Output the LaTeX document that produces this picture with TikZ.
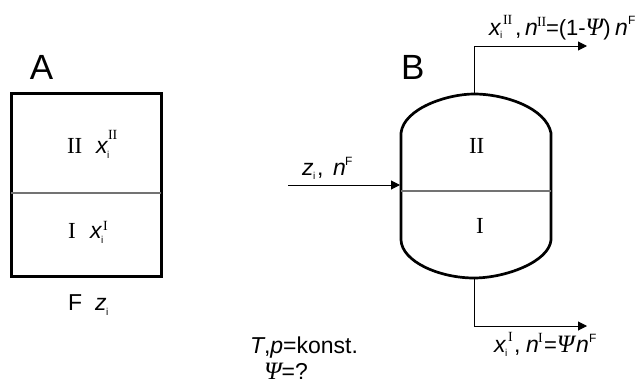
\documentclass[tikz,border=0pt]{standalone}
\usepackage{fontspec}
\setmainfont{Liberation Sans}
\newfontfamily\serifnum{Liberation Serif}
\usetikzlibrary{arrows.meta}
\newcommand{\fs}[1]{\fontsize{#1}{#1}\selectfont}
\newcommand{\PsiI}{{\serifnum\itshape\fs{25}Ψ}}
\tikzset{
  lbl/.style={anchor=base west,inner sep=0pt,outer sep=0pt,font=\fs{23}},
  big/.style={lbl,font=\fs{35}},
  small/.style={lbl,font=\fs{10}},
  sup/.style={lbl,font=\fs{12}},
  rom/.style={lbl,font=\serifnum\fs{23}},
  romsup/.style={lbl,font=\serifnum\fs{14}},
  wall/.style={line width=2.7pt,black},
  part/.style={line width=1.3pt,black!55},
  flow/.style={line width=1pt,black,-{Triangle[length=9pt,width=9pt]}},
}
\begin{document}
\begin{tikzpicture}[x=1pt,y=-1pt]
\useasboundingbox (0,0) rectangle (635,383);
% A
\node[big] (lA) at (30,79) {A};
\node[draw,wall,minimum width=149.6pt,minimum height=183.6pt,anchor=north west,inner sep=0pt,outer sep=0pt] (boxA) at (11.6,93.2) {};
\coordinate (aL) at (11,193); \coordinate (aR) at (161,193);
\draw[part] (aL) -- (aR);
\node[rom] (aII) at (67,153) {II};
\node[lbl] (ax2) at (96,153) {\textit{x}};
\node[small] (ai2) at (107,158) {i};
\node[romsup] (as2) at (108,139) {II};
\node[rom] (aI) at (68,238) {I};
\node[lbl] (ax1) at (90,238) {\textit{x}};
\node[small] (ai1) at (101,243) {i};
\node[romsup] (as1) at (103,230) {I};
\node[lbl] (aF) at (68,310) {F};
\node[lbl] (az) at (95,310) {\textit{z}};
\node[small] (azi) at (106,315) {i};
% B
\node[big] (lB) at (401,79) {B};
\coordinate (v1) at (401,133); \coordinate (vt) at (474,94); \coordinate (v2) at (551,133);
\coordinate (v3) at (551,240); \coordinate (vb) at (474,278); \coordinate (v4) at (401,240);
\draw[wall] (v1) .. controls (404,108) and (448,94) .. (vt)
  .. controls (505,94) and (546,108) .. (v2) -- (v3)
  .. controls (549,262) and (505,278) .. (vb)
  .. controls (440,278) and (402,262) .. (v4) -- cycle;
\coordinate (vL) at (401,191); \coordinate (vR) at (551,191);
\draw[part] (vL) -- (vR);
\node[rom] (bII) at (469,153) {II};
\node[rom] (bI) at (476,233) {I};
% feed
\coordinate (f0) at (288,185); \coordinate (f1) at (400,185);
\draw[flow] (f0) -- (f1);
\node[lbl] (fz) at (302,175) {\textit{z}};
\node[small] (fi) at (313,179) {i};
\node[lbl] (fc) at (317,175) {,};
\node[lbl] (fn) at (333,175) {\textit{n}};
\node[sup] (fF) at (345,165) {F};
% top outlet
\coordinate (t1) at (474,46); \coordinate (t2) at (587,46);
\draw[flow] (vt) -- (t1) -- (t2);
\node[lbl] (tx) at (489,35) {\textit{x}};
\node[small] (ti) at (500,38) {i};
\node[romsup] (ts) at (503,24) {II};
\node[lbl] (tc) at (515,35) {,};
\node[lbl] (tn) at (525,35) {\textit{n}};
\node[romsup] (tns) at (537,26) {II};
\node[lbl,font=\fs{22}] (te) at (546,35) {=(1-\PsiI)};
\node[lbl] (tm) at (615,35) {\textit{n}};
\node[sup] (tF) at (628,24) {F};
% bottom outlet
\coordinate (b1) at (474,326); \coordinate (b2) at (587,326);
\draw[flow] (vb) -- (b1) -- (b2);
\node[lbl] (bx) at (494,352) {\textit{x}};
\node[small] (bi) at (505,356) {i};
\node[romsup] (bs) at (508,341) {I};
\node[lbl] (bc) at (514,352) {,};
\node[lbl] (bn) at (526,352) {\textit{n}};
\node[romsup] (bns) at (538,342) {I};
\node[lbl,font=\fs{22}] (be) at (544,352) {=\PsiI};
\node[lbl] (bm) at (576,352) {\textit{n}};
\node[sup] (bF) at (589,342) {F};
% conditions
\node[lbl] (cT) at (250,353) {\textit{T},\textit{p}=konst.};
\node[lbl] (cP) at (264,379) {\PsiI=?};
\end{tikzpicture}
\end{document}
